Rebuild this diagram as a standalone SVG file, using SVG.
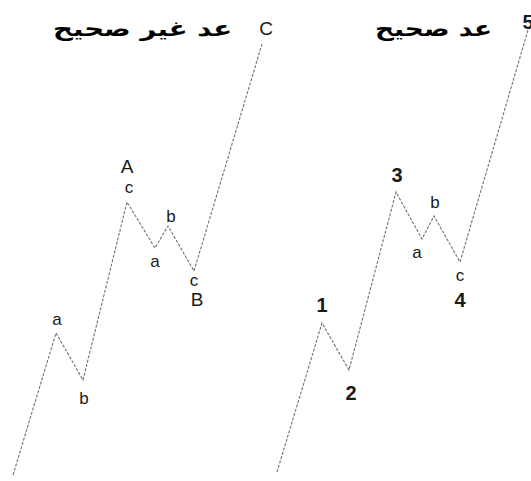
<svg xmlns="http://www.w3.org/2000/svg" width="531" height="481" viewBox="0 0 531 481">
<style>
.wave{fill:none;stroke:#707070;stroke-width:1.1;stroke-dasharray:3 1.5}
.lc{font-family:"Liberation Sans",Arial,sans-serif;font-size:17px;fill:#1a1a1a;text-anchor:middle}
.uc{font-family:"Liberation Sans",Arial,sans-serif;font-size:19px;fill:#1a1a1a;text-anchor:middle}
.num{font-family:"Liberation Sans",Arial,sans-serif;font-size:20px;font-weight:bold;fill:#1a1a1a;text-anchor:middle}
.ar{font-family:"DejaVu Sans","Noto Sans",sans-serif;font-size:21px;font-weight:bold;fill:#000;text-anchor:end}
</style>
<rect width="531" height="481" fill="#fff"/>
<g id="connectors">
<polyline class="wave" points="13,475 56,333 83,380 127,202 155,248 168,226 194,271 262,44"/>
<polyline class="wave" points="277,472 322,323 349,370 396,192 422,239 434,216 460,262 528,30"/>
</g>
<g id="title-incorrect"><text class="ar" x="232" y="36" textLength="179" lengthAdjust="spacingAndGlyphs">عد غير صحيح</text></g>
<g id="title-correct"><text class="ar" x="492" y="36" textLength="117" lengthAdjust="spacingAndGlyphs">عد صحيح</text></g>
<g id="left-a1"><text class="lc" x="57" y="325">a</text></g>
<g id="left-b1"><text class="lc" x="84" y="404">b</text></g>
<g id="left-A"><text class="uc" x="127" y="173">A</text></g>
<g id="left-c1"><text class="lc" x="129" y="193">c</text></g>
<g id="left-a2"><text class="lc" x="155" y="267">a</text></g>
<g id="left-b2"><text class="lc" x="171" y="222">b</text></g>
<g id="left-c2"><text class="lc" x="194" y="286">c</text></g>
<g id="left-B"><text class="uc" x="197" y="306">B</text></g>
<g id="left-C"><text class="uc" x="266" y="35">C</text></g>
<g id="right-1"><text class="num" x="322" y="312">1</text></g>
<g id="right-2"><text class="num" x="351" y="400">2</text></g>
<g id="right-3"><text class="num" x="397" y="182">3</text></g>
<g id="right-a"><text class="lc" x="417" y="258">a</text></g>
<g id="right-b"><text class="lc" x="435" y="208">b</text></g>
<g id="right-c"><text class="lc" x="460" y="281">c</text></g>
<g id="right-4"><text class="num" x="460" y="307">4</text></g>
<g id="right-5"><text class="num" x="528" y="29">5</text></g>
</svg>
